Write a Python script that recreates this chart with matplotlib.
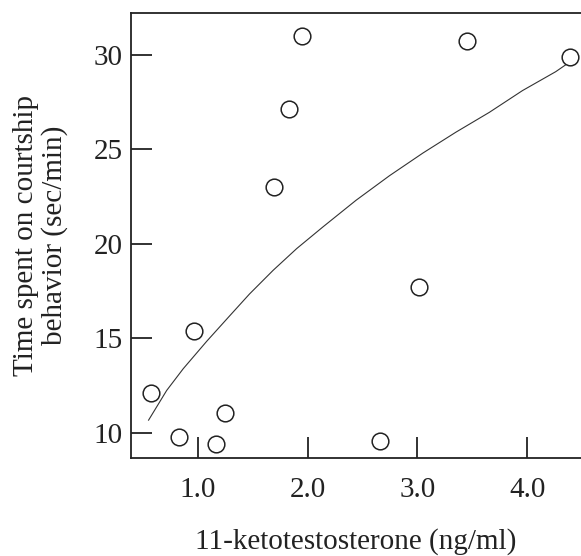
import numpy as np
import matplotlib
matplotlib.use('Agg')
import matplotlib.pyplot as plt

# Data points
kt = [0.57, 0.83, 0.96, 1.16, 1.25, 1.69, 1.83, 1.95, 2.66, 3.01, 3.45, 4.39]
courtship = [12.1, 9.8, 15.4, 9.4, 11.05, 23.0, 27.1, 31.0, 9.6, 17.7, 30.7, 29.9]

# Fitted curve, points
curve_x = [0.55, 0.715, 0.866, 1.08, 1.29, 1.47, 1.685, 1.90, 2.14, 2.44,
           2.745, 3.05, 3.35, 3.655, 3.957, 4.26, 4.35]
curve_y = [10.68, 12.25, 13.4, 14.85, 16.2, 17.35, 18.6, 19.75, 20.9, 22.3,
           23.6, 24.8, 25.9, 26.95, 28.1, 29.1, 29.46]

xticks = [1.0, 2.0, 3.0, 4.0]
yticks = [10, 15, 20, 25, 30]

plt.rcParams['font.family'] = ['Liberation Serif', 'DejaVu Serif']

fig = plt.figure(figsize=(5.81, 5.56), dpi=100)
ax = fig.add_axes([0.2255, 0.1763, 0.7745, 0.8003])

ax.plot(curve_x, curve_y, color='#333333', linewidth=0.8)
ax.plot(kt, courtship, linestyle='none', marker='o', markersize=12,
        markerfacecolor='white', markeredgecolor='#222222', markeredgewidth=1.1,
        clip_on=False)

ax.set_xlim(0.39, 4.49)
ax.set_ylim(8.68, 32.2)
ax.set_xticks(xticks)
ax.set_xticklabels(['%.1f' % t for t in xticks])
ax.set_yticks(yticks)

ax.spines['right'].set_visible(False)
for s in ['left', 'bottom', 'top']:
    ax.spines[s].set_linewidth(1.3)
    ax.spines[s].set_color('#222222')

ax.tick_params(direction='in', length=15, width=1.3, labelsize=21,
               colors='#222222', pad=6)
ax.tick_params(axis='x', pad=14)

ax.set_xlabel('11-ketotestosterone (ng/ml)', fontsize=21, color='#222222', labelpad=18)
ax.set_ylabel('Time spent on courtship\nbehavior (sec/min)', fontsize=21,
              color='#222222', labelpad=18, linespacing=1.1)

plt.savefig('out.png', dpi=100)
